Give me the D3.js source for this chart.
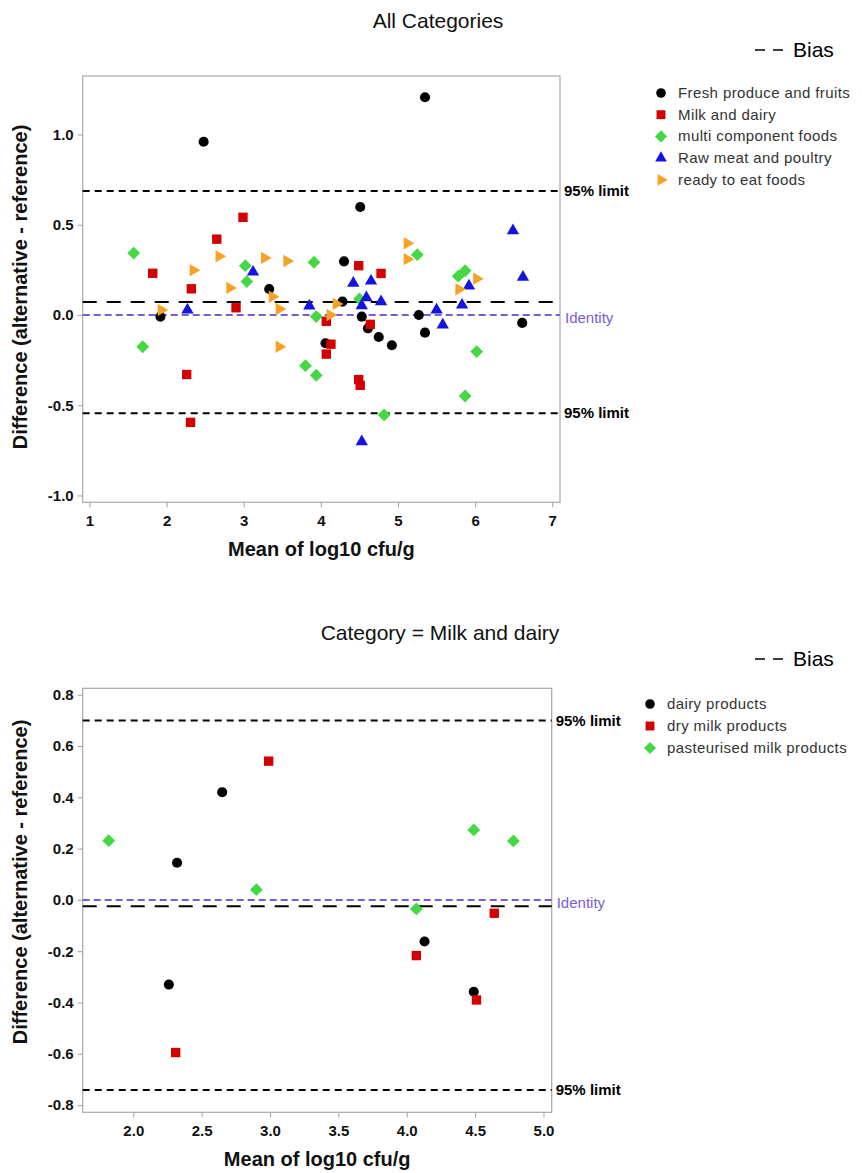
<!DOCTYPE html>
<html>
<head>
<meta charset="utf-8">
<script src="https://cdn.jsdelivr.net/npm/d3@7"></script>
<style>
  body { margin: 0; background: #fff; }
  text { font-family: "Liberation Sans", Arial, sans-serif; }
</style>
</head>
<body>
<div class="main"></div>
<script>
//Data - all categories (mean, difference)
const freshProduce = [[2.48,0.96],[3.33,0.144],[1.92,-0.009],[4.30,0.297],[4.51,0.598],[5.35,1.206],[4.28,0.074],[4.53,-0.009],[4.61,-0.074],[4.75,-0.122],[4.92,-0.168],[5.27,0.0],[5.35,-0.098],[6.61,-0.044],[4.06,-0.157]];
const dairyProducts = [[2.26,-0.33],[2.32,0.145],[2.65,0.42],[4.13,-0.162],[4.49,-0.358]];
const dryMilkProducts = [[2.31,-0.595],[2.99,0.541],[4.07,-0.217],[4.51,-0.39],[4.64,-0.052]];
const pasteurisedMilk = [[1.82,0.231],[2.90,0.04],[4.07,-0.035],[4.49,0.273],[4.78,0.23]];
const milkAndDairy = dairyProducts.concat(dryMilkProducts, pasteurisedMilk);
const multiComponent = [[1.573,0.343],[3.02,0.273],[3.04,0.185],[3.91,0.292],[1.69,-0.176],[3.94,-0.009],[3.80,-0.281],[3.94,-0.334],[5.25,0.334],[5.78,0.215],[5.87,0.245],[4.50,0.089],[6.02,-0.203],[5.87,-0.449],[4.82,-0.554]];
const rawMeat = [[3.12,0.238],[2.27,0.028],[3.85,0.05],[4.42,0.176],[4.65,0.188],[6.49,0.467],[6.62,0.209],[5.92,0.161],[5.83,0.055],[4.59,0.096],[4.53,0.052],[4.78,0.074],[5.50,0.028],[5.58,-0.055],[4.53,-0.702]];
const readyToEat = [[1.93,0.028],[2.345,0.248],[2.68,0.325],[3.27,0.316],[3.56,0.299],[2.82,0.150],[3.37,0.101],[3.46,0.033],[3.46,-0.176],[5.12,0.397],[5.12,0.309],[6.02,0.201],[5.79,0.142],[4.20,0.061],[4.12,0.0]];

//Reference lines [upper 95%, bias, lower 95%]
const topLimits = [0.687, 0.072, -0.545];
const bottomLimits = [0.699, -0.025, -0.741];

//Ticks
const topXTicks = [1, 2, 3, 4, 5, 6, 7];
const topYTicks = [-1.0, -0.5, 0.0, 0.5, 1.0];
const bottomXTicks = [2.0, 2.5, 3.0, 3.5, 4.0, 4.5, 5.0];
const bottomYTicks = [-0.8, -0.6, -0.4, -0.2, 0.0, 0.2, 0.4, 0.6, 0.8];

//Legends
const topNames = ['Fresh produce and fruits', 'Milk and dairy', 'multi component foods', 'Raw meat and poultry', 'ready to eat foods'];
const bottomNames = ['dairy products', 'dry milk products', 'pasteurised milk products'];

//Variables
const width = 862,
      height = 1173,
      font = '"Liberation Sans", Arial, sans-serif';

const markers = {
  circle:   {type: d3.symbolCircle, size: 80, rot: 0},
  square:   {type: d3.symbolSquare, size: 88, rot: 0},
  diamond:  {type: d3.symbolSquare, size: 82, rot: 45},
  triangle: {type: d3.symbolTriangle, size: 66, rot: 0},
  right:    {type: d3.symbolTriangle, size: 66, rot: 90}
};

//Create Canvas
const svg = d3.select('.main')
              .append('svg')
              .attr('width', width)
              .attr('height', height)
              .style('display', 'block');

function panel(cfg) {
  const x = d3.scaleLinear().domain(cfg.xDomain).range([cfg.left, cfg.right]);
  const y = d3.scaleLinear().domain(cfg.yDomain).range([cfg.bottom, cfg.top]);
  const g = svg.append('g');
  const fmt = d => d.toFixed(1);

  //Title
  g.append('text')
   .attr('x', cfg.titleX).attr('y', cfg.titleY)
   .attr('text-anchor', 'middle')
   .style('font-size', '21px').attr('fill', '#111')
   .text(cfg.title);

  //Bias key
  g.append('line')
   .attr('x1', 755).attr('x2', 784)
   .attr('y1', cfg.keyY - 7).attr('y2', cfg.keyY - 7)
   .attr('stroke', '#000').attr('stroke-width', 1.6)
   .attr('stroke-dasharray', '10,8');
  g.append('text')
   .attr('x', 793).attr('y', cfg.keyY)
   .style('font-size', '21px').attr('fill', '#000')
   .text('Bias');

  //Axes
  const yAxis = g.append('g')
   .attr('transform', `translate(${cfg.left},0)`)
   .call(d3.axisLeft(y).tickValues(cfg.yTicks).tickFormat(fmt).tickSize(5).tickPadding(4));
  const xAxis = g.append('g')
   .attr('transform', `translate(0,${cfg.bottom})`)
   .call(d3.axisBottom(x).tickValues(cfg.xTicks).tickFormat(cfg.xFmt).tickSize(5).tickPadding(8));
  [xAxis, yAxis].forEach(a => {
    a.select('.domain').remove();
    a.selectAll('line').attr('stroke', '#a0a0a0');
    a.selectAll('text').attr('fill', '#111')
     .style('font-family', font).style('font-size', '15px').style('font-weight', 'bold');
  });

  //Frame
  g.append('rect')
   .attr('x', cfg.left).attr('y', cfg.top)
   .attr('width', cfg.right - cfg.left).attr('height', cfg.bottom - cfg.top)
   .attr('fill', 'none').attr('stroke', '#a8a8a8').attr('stroke-width', 1.2);

  //Axis titles
  g.append('text')
   .attr('x', (cfg.left + cfg.right) / 2).attr('y', cfg.bottom + 54)
   .attr('text-anchor', 'middle')
   .style('font-size', '20px').style('font-weight', 'bold').attr('fill', '#111')
   .text('Mean of log10 cfu/g');
  g.append('text')
   .attr('transform', `translate(27,${cfg.yTitleMid}) rotate(-90)`)
   .attr('text-anchor', 'middle')
   .style('font-size', '20px').style('font-weight', 'bold').attr('fill', '#111')
   .text('Difference (alternative - reference)');

  //Reference lines
  const hline = (v, color, dash, w) => g.append('line')
   .attr('x1', cfg.left).attr('x2', cfg.right)
   .attr('y1', y(v)).attr('y2', y(v))
   .attr('stroke', color).attr('stroke-width', w)
   .attr('stroke-dasharray', dash);
  hline(cfg.limits[0], '#000', '7,5', 2);
  hline(cfg.limits[2], '#000', '7,5', 2);
  hline(0, '#7a5cd6', '7,4', 2);
  hline(cfg.limits[1], '#000', '14,10', 2);

  //Line labels
  [cfg.limits[0], cfg.limits[2]].forEach(v => {
    g.append('text')
     .attr('x', cfg.right + 4).attr('y', y(v) + 5)
     .style('font-size', '15px').style('font-weight', 'bold').attr('fill', '#000')
     .text('95% limit');
  });
  g.append('text')
   .attr('x', cfg.right + 5).attr('y', y(0) + 8)
   .style('font-size', '15px').attr('fill', '#7a5cd6')
   .text('Identity');

  //Points
  cfg.series.forEach(s => {
    const m = markers[s.marker];
    g.append('g').selectAll('path')
     .data(s.data)
     .enter()
     .append('path')
     .attr('d', d3.symbol().type(m.type).size(m.size))
     .attr('transform', d => `translate(${x(d[0])},${y(d[1])}) rotate(${m.rot})`)
     .attr('fill', s.color);
  });

  //Legend
  const leg = g.append('g');
  cfg.series.forEach((s, i) => {
    const m = markers[s.marker];
    const ly = cfg.legendY + i * cfg.legendStep;
    leg.append('path')
     .attr('d', d3.symbol().type(m.type).size(m.size * 0.9))
     .attr('transform', `translate(${cfg.legendX},${ly}) rotate(${m.rot})`)
     .attr('fill', s.color);
    leg.append('text')
     .attr('x', cfg.legendX + 17).attr('y', ly + 5)
     .style('font-size', '15px').style('letter-spacing', '0.4px').attr('fill', '#333')
     .text(s.name);
  });
}

//Create Top panel
panel({
  title: 'All Categories', titleX: 438, titleY: 28, keyY: 57,
  left: 82.7, right: 560, top: 76, bottom: 502.3,
  xDomain: [0.912, 7.1], yDomain: [-1.038, 1.324],
  xTicks: topXTicks, yTicks: topYTicks, xFmt: d => d,
  yTitleMid: 287, limits: topLimits,
  legendX: 661, legendY: 93, legendStep: 21.7,
  series: [
    {name: topNames[0], data: freshProduce, color: '#000000', marker: 'circle'},
    {name: topNames[1], data: milkAndDairy, color: '#d40000', marker: 'square'},
    {name: topNames[2], data: multiComponent, color: '#44d944', marker: 'diamond'},
    {name: topNames[3], data: rawMeat, color: '#1414e0', marker: 'triangle'},
    {name: topNames[4], data: readyToEat, color: '#f8a125', marker: 'right'}
  ]
});

//Create Bottom panel
panel({
  title: 'Category = Milk and dairy', titleX: 440, titleY: 640, keyY: 666,
  left: 82.7, right: 551.7, top: 688.3, bottom: 1112.3,
  xDomain: [1.63, 5.06], yDomain: [-0.828, 0.825],
  xTicks: bottomXTicks, yTicks: bottomYTicks, xFmt: d => d.toFixed(1),
  yTitleMid: 882, limits: bottomLimits,
  legendX: 650, legendY: 704, legendStep: 22,
  series: [
    {name: bottomNames[0], data: dairyProducts, color: '#000000', marker: 'circle'},
    {name: bottomNames[1], data: dryMilkProducts, color: '#d40000', marker: 'square'},
    {name: bottomNames[2], data: pasteurisedMilk, color: '#44d944', marker: 'diamond'}
  ]
});
</script>
</body>
</html>
